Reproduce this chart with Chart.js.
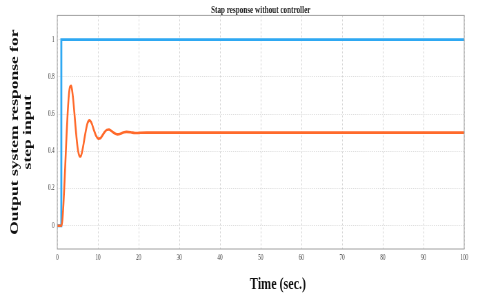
<!DOCTYPE html>
<html>
<head>
<meta charset="utf-8">
<script src="https://cdn.jsdelivr.net/npm/chart.js@4"></script>
<style>
html,body{margin:0;padding:0;background:#fff;overflow:hidden;width:480px;height:293px;}
#c{display:block;transform:scaleX(0.6897);transform-origin:0 0;}
</style>
</head>
<body>
<canvas id="c" width="696" height="293" style="width:696px;height:293px"></canvas>
<script>
// ---- data ----
const chartTitle = 'Stap response without controller';
const xAxisTitle = 'Time (sec.)';
const yAxisTitle = ['Output system response for', 'step input'];

const xTicks = [0, 10, 20, 30, 40, 50, 60, 70, 80, 90, 100];
const yTicks = [0, 0.2, 0.4, 0.6, 0.8, 1];
const yTickLabels = ['0', '0.2', '0.4', '0.6', '0.8', '1'];

// step input (blue)
const stepT = [0, 1, 1, 100];
const stepY = [0, 0, 1, 1];

// system response (orange)
const respT = [0, 1.00, 1.27, 1.53, 1.80, 2.07, 2.33, 2.60, 2.86, 3.13, 3.40, 3.66, 3.93, 4.20, 4.46, 4.73, 4.99, 5.26, 5.53, 5.79, 6.06, 6.33, 6.86, 7.39, 7.92, 8.46, 8.99, 9.52, 10.05, 10.59, 11.12, 11.65, 12.18, 12.72, 13.25, 13.78, 14.31, 14.85, 15.38, 15.91, 16.44, 16.98, 18.04, 19.11, 20.17, 22, 25, 100];
const respY = [0, 0, 0.032, 0.119, 0.241, 0.378, 0.510, 0.622, 0.703, 0.746, 0.752, 0.726, 0.675, 0.609, 0.539, 0.474, 0.422, 0.387, 0.372, 0.374, 0.393, 0.422, 0.491, 0.548, 0.566, 0.550, 0.515, 0.484, 0.468, 0.470, 0.486, 0.503, 0.515, 0.517, 0.510, 0.501, 0.494, 0.491, 0.493, 0.498, 0.502, 0.504, 0.502, 0.498, 0.499, 0.5, 0.5, 0.5];

const toXY = (xs, ys) => xs.map((x, i) => ({x: x, y: ys[i]}));

const serif = 'Liberation Serif';

const frameAndLabel = {
  id: 'frameAndLabel',
  beforeDraw(chart) {
    const ctx = chart.ctx;
    ctx.save();
    ctx.fillStyle = '#ffffff';
    ctx.fillRect(0, 0, chart.width, chart.height);
    ctx.restore();
  },
  afterDraw(chart) {
    const ctx = chart.ctx;
    const a = chart.chartArea;
    ctx.save();
    ctx.strokeStyle = '#a0a0a0';
    ctx.lineWidth = 1;
    ctx.strokeRect(a.left, a.top, a.right - a.left, a.bottom - a.top);
    ctx.fillStyle = '#111';
    ctx.font = 'bold 17.5px "' + serif + '"';
    ctx.textAlign = 'center';
    ctx.textBaseline = 'alphabetic';
    ctx.fillText(xAxisTitle, (a.left + a.right) / 2 + 25, 288.5);
    ctx.restore();
  }
};

new Chart(document.getElementById('c'), {
  type: 'line',
  data: {
    datasets: [
      {
        label: 'response',
        data: toXY(respT, respY),
        borderColor: '#ff6a2b',
        borderWidth: 2.6,
        pointRadius: 0,
        cubicInterpolationMode: 'monotone',
        fill: false
      },
      {
        label: 'step',
        data: toXY(stepT, stepY),
        borderColor: '#2ea8f2',
        borderWidth: 2.8,
        pointRadius: 0,
        tension: 0,
        fill: false
      }
    ]
  },
  options: {
    responsive: false,
    animation: false,
    devicePixelRatio: 1,
    layout: {padding: {left: 0, right: 23, top: 0, bottom: 0}},
    plugins: {
      legend: {display: false},
      tooltip: {enabled: false},
      title: {
        display: true,
        text: chartTitle,
        fullSize: false,
        color: '#222',
        font: {family: serif, size: 10.4, weight: 'bold', lineHeight: 1},
        padding: {top: 5, bottom: 0}
      }
    },
    scales: {
      x: {
        type: 'linear',
        min: 0,
        max: 100,
        afterBuildTicks: s => { s.ticks = xTicks.map(v => ({value: v})); },
        afterFit: s => { s.height = 44; },
        grid: {color: '#d4d4d4', lineWidth: 1, drawTicks: false},
        border: {display: false, dash: [2, 2]},
        ticks: {
          padding: 5,
          color: '#3a3a3a',
          font: {family: serif, size: 7.5},
          maxRotation: 0,
          callback: v => String(v)
        }
      },
      y: {
        type: 'linear',
        min: -0.125,
        max: 1.13,
        afterBuildTicks: s => { s.ticks = yTicks.map(v => ({value: v})); },
        afterFit: s => { s.width = 83; },
        grid: {color: '#dedede', lineWidth: 1, drawTicks: false},
        border: {display: false, dash: [1.5, 1.5]},
        ticks: {
          padding: 4,
          color: '#3a3a3a',
          font: {family: serif, size: 7.5},
          callback: (v) => { const i = yTicks.indexOf(v); return i >= 0 ? yTickLabels[i] : ''; }
        },
        title: {
          display: true,
          text: yAxisTitle,
          color: '#111',
          font: {family: serif, size: 17.5, weight: 'bold', lineHeight: '19px'},
          padding: {top: 12, bottom: 0}
        }
      }
    }
  },
  plugins: [frameAndLabel]
});
</script>
</body>
</html>
